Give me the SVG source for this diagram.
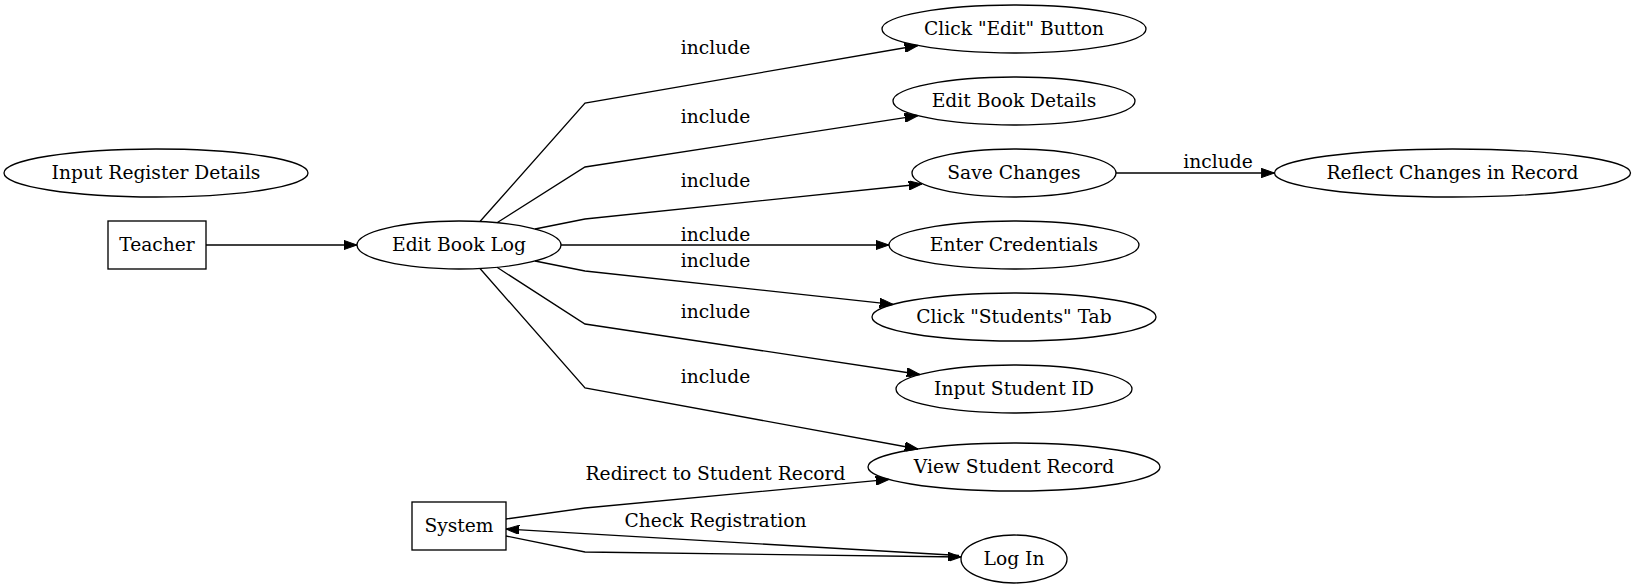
<svg xmlns="http://www.w3.org/2000/svg" width="1637" height="588" viewBox="0 0 1637 588">
<style>
.n ellipse, .n rect { fill: none; stroke: #000; stroke-width: 1.33; }
text { font-family: "DejaVu Serif", "Liberation Serif", serif; font-size: 18.67px; fill: #000; text-anchor: middle; }
.e path { fill: none; stroke: #000; stroke-width: 1.33; marker-end: url(#arr); }
</style>
<defs>
<marker id="arr" markerUnits="userSpaceOnUse" viewBox="0 0 13.33 9.33" refX="13.33" refY="4.67" markerWidth="13.33" markerHeight="9.33" orient="auto">
<path d="M0,0 L13.33,4.67 L0,9.33 z" fill="#000" stroke="#000" stroke-width="1"/>
</marker>
</defs>
<rect width="1637" height="588" fill="#fff"/>
<g id="edges" class="e">
<path d="M206,245 L357,245"/>
<path d="M480,221.5 L585,103 L918,45.5"/>
<path d="M497,222.7 L585,167 L918,115.6"/>
<path d="M535,229 L585,219 L922,184"/>
<path d="M561,245 L889,245"/>
<path d="M535,261 L585,271 L893,304.4"/>
<path d="M497,267.3 L585,324 L920,374.5"/>
<path d="M480,268.5 L585,388 L918,449"/>
<path d="M1116,173 L1274.5,173"/>
<path d="M506,519 L585,508 L889,479.4"/>
<path d="M959,555.5 L506,529"/>
<path d="M506,536 L585,552 L961,557"/>
<text x="715.5" y="54">include</text>
<text x="715.5" y="123">include</text>
<text x="715.5" y="187">include</text>
<text x="715.5" y="240.5">include</text>
<text x="715.5" y="267">include</text>
<text x="715.5" y="318">include</text>
<text x="715.5" y="383">include</text>
<text x="1218" y="168">include</text>
<text x="715.5" y="480">Redirect to Student Record</text>
<text x="715.5" y="527">Check Registration</text>
</g>
<g id="input_register_details" class="n"><ellipse cx="156" cy="173" rx="152" ry="24"/><text x="156" y="178.6">Input Register Details</text></g>
<g id="teacher" class="n"><rect x="108" y="221" width="98" height="48"/><text x="157" y="250.6">Teacher</text></g>
<g id="edit_book_log" class="n"><ellipse cx="459" cy="245" rx="102" ry="24"/><text x="459" y="250.6">Edit Book Log</text></g>
<g id="click_edit_button" class="n"><ellipse cx="1014" cy="29" rx="132" ry="24"/><text x="1014" y="34.6">Click "Edit" Button</text></g>
<g id="edit_book_details" class="n"><ellipse cx="1014" cy="101" rx="121" ry="24"/><text x="1014" y="106.6">Edit Book Details</text></g>
<g id="save_changes" class="n"><ellipse cx="1014" cy="173" rx="102" ry="24"/><text x="1014" y="178.6">Save Changes</text></g>
<g id="reflect_changes" class="n"><ellipse cx="1452.5" cy="173" rx="178" ry="24"/><text x="1452.5" y="178.6">Reflect Changes in Record</text></g>
<g id="enter_credentials" class="n"><ellipse cx="1014" cy="245" rx="125" ry="24"/><text x="1014" y="250.6">Enter Credentials</text></g>
<g id="click_students_tab" class="n"><ellipse cx="1014" cy="317" rx="142" ry="24"/><text x="1014" y="322.6">Click "Students" Tab</text></g>
<g id="input_student_id" class="n"><ellipse cx="1014" cy="389" rx="118" ry="24"/><text x="1014" y="394.6">Input Student ID</text></g>
<g id="view_student_record" class="n"><ellipse cx="1014" cy="467" rx="146" ry="24"/><text x="1014" y="472.6">View Student Record</text></g>
<g id="system" class="n"><rect x="412" y="502" width="94" height="48"/><text x="459" y="531.6">System</text></g>
<g id="log_in" class="n"><ellipse cx="1014" cy="559" rx="53" ry="24"/><text x="1014" y="564.6">Log In</text></g>
</svg>
